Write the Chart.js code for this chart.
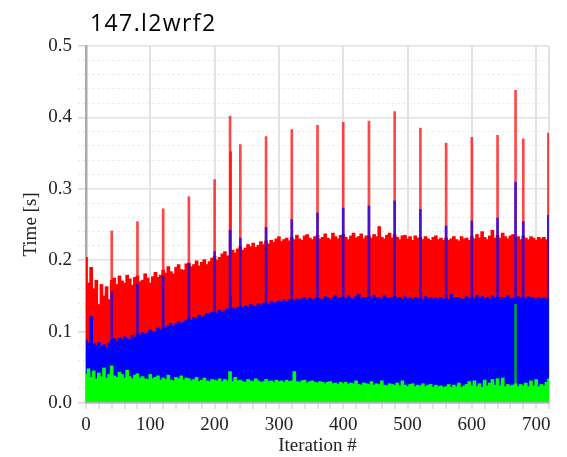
<!DOCTYPE html>
<html>
<head>
<meta charset="utf-8">
<script src="https://cdn.jsdelivr.net/npm/chart.js@4"></script>
<style>
  html, body { margin: 0; padding: 0; background: #fff; }
  #wrap { width: 567px; height: 457px; }
</style>
</head>
<body>
<div id="wrap"><canvas id="timeChart" width="567" height="457"></canvas></div>
<script>
// per-iteration timings, one sample every 4 iterations (0..720)
const sampleStep = 4;

const maxTimes = [
    0.204, 0.168, 0.190, 0.160, 0.172, 0.138, 0.166, 0.150, 0.163, 0.145,
    0.172, 0.175, 0.166, 0.178, 0.171, 0.168, 0.179, 0.174, 0.165, 0.176,
    0.178, 0.170, 0.172, 0.181, 0.175, 0.168, 0.177, 0.183, 0.176, 0.179,
    0.186, 0.182, 0.191, 0.184, 0.181, 0.190, 0.194, 0.187, 0.186, 0.195,
    0.196, 0.191, 0.194, 0.199, 0.192, 0.197, 0.201, 0.194, 0.198, 0.203,
    0.205, 0.200, 0.204, 0.209, 0.212, 0.206, 0.205, 0.214, 0.210, 0.216,
    0.219, 0.214, 0.217, 0.222, 0.219, 0.224, 0.218, 0.221, 0.226, 0.222,
    0.227, 0.223, 0.228, 0.225, 0.230, 0.233, 0.226, 0.229, 0.231, 0.227,
    0.232, 0.229, 0.235, 0.230, 0.228, 0.234, 0.236, 0.231, 0.229, 0.233,
    0.235, 0.230, 0.232, 0.237, 0.231, 0.229, 0.238, 0.233, 0.230, 0.235,
    0.236, 0.232, 0.229, 0.234, 0.238, 0.231, 0.233, 0.237, 0.230, 0.234,
    0.234, 0.231, 0.236, 0.233, 0.247, 0.232, 0.230, 0.235, 0.238, 0.231,
    0.236, 0.232, 0.229, 0.234, 0.235, 0.230, 0.233, 0.228, 0.234, 0.231,
    0.232, 0.229, 0.233, 0.230, 0.228, 0.232, 0.234, 0.229, 0.231, 0.228,
    0.231, 0.228, 0.230, 0.233, 0.229, 0.227, 0.233, 0.230, 0.231, 0.228,
    0.233, 0.230, 0.236, 0.231, 0.240, 0.232, 0.229, 0.234, 0.242, 0.231,
    0.235, 0.231, 0.238, 0.233, 0.230, 0.234, 0.236, 0.231, 0.233, 0.229,
    0.234, 0.231, 0.229, 0.233, 0.231, 0.228, 0.232, 0.230, 0.232, 0.229,
    0.230
];

const avgTimes = [
    0.088, 0.084, 0.121, 0.083, 0.080, 0.085, 0.079, 0.082, 0.078, 0.084,
    0.088, 0.090, 0.086, 0.091, 0.089, 0.093, 0.090, 0.088, 0.095, 0.092,
    0.097, 0.095, 0.099, 0.096, 0.098, 0.102, 0.100, 0.099, 0.105, 0.102,
    0.107, 0.105, 0.108, 0.111, 0.107, 0.110, 0.114, 0.111, 0.113, 0.116,
    0.118, 0.116, 0.120, 0.118, 0.123, 0.120, 0.122, 0.126, 0.124, 0.127,
    0.128, 0.126, 0.130, 0.127, 0.129, 0.132, 0.130, 0.133, 0.131, 0.134,
    0.135, 0.133, 0.136, 0.134, 0.138, 0.136, 0.135, 0.139, 0.137, 0.140,
    0.140, 0.138, 0.142, 0.140, 0.141, 0.143, 0.141, 0.144, 0.142, 0.145,
    0.145, 0.143, 0.146, 0.144, 0.146, 0.148, 0.144, 0.147, 0.145, 0.146,
    0.148, 0.146, 0.145, 0.149, 0.147, 0.145, 0.148, 0.150, 0.146, 0.147,
    0.148, 0.146, 0.150, 0.147, 0.145, 0.149, 0.152, 0.146, 0.148, 0.147,
    0.149, 0.146, 0.151, 0.147, 0.148, 0.145, 0.150, 0.147, 0.146, 0.148,
    0.149, 0.146, 0.148, 0.145, 0.149, 0.146, 0.147, 0.145, 0.148, 0.146,
    0.147, 0.145, 0.149, 0.146, 0.148, 0.145, 0.147, 0.146, 0.148, 0.145,
    0.147, 0.145, 0.152, 0.146, 0.148, 0.147, 0.145, 0.146, 0.149, 0.146,
    0.148, 0.146, 0.151, 0.147, 0.149, 0.146, 0.148, 0.145, 0.150, 0.147,
    0.149, 0.146, 0.148, 0.147, 0.150, 0.146, 0.147, 0.145, 0.149, 0.147,
    0.148, 0.146, 0.149, 0.147, 0.147, 0.145, 0.148, 0.146, 0.147, 0.146,
    0.147
];

const minTimes = [
    0.040, 0.048, 0.036, 0.045, 0.034, 0.042, 0.037, 0.049, 0.035, 0.040,
    0.052, 0.038, 0.036, 0.043, 0.040, 0.035, 0.046, 0.037, 0.034, 0.039,
    0.041, 0.035, 0.037, 0.034, 0.033, 0.040, 0.034, 0.036, 0.038, 0.032,
    0.035, 0.033, 0.039, 0.032, 0.031, 0.036, 0.034, 0.038, 0.032, 0.035,
    0.034, 0.031, 0.033, 0.036, 0.030, 0.032, 0.035, 0.031, 0.030, 0.033,
    0.032, 0.031, 0.034, 0.030, 0.033, 0.031, 0.044, 0.030, 0.036, 0.031,
    0.032, 0.030, 0.029, 0.033, 0.031, 0.030, 0.034, 0.031, 0.029, 0.030,
    0.033, 0.030, 0.031, 0.029, 0.032, 0.030, 0.031, 0.029, 0.032, 0.030,
    0.031, 0.044, 0.030, 0.029, 0.031, 0.032, 0.028, 0.030, 0.031, 0.029,
    0.028, 0.030, 0.029, 0.027, 0.029, 0.030, 0.027, 0.028, 0.026, 0.029,
    0.027, 0.029, 0.026, 0.028, 0.027, 0.031, 0.026, 0.025, 0.028, 0.027,
    0.026, 0.030, 0.025, 0.027, 0.026, 0.031, 0.025, 0.024, 0.027, 0.026,
    0.025, 0.028, 0.024, 0.031, 0.025, 0.023, 0.026, 0.027, 0.023, 0.025,
    0.024, 0.027, 0.023, 0.025, 0.026, 0.022, 0.025, 0.023, 0.024, 0.022,
    0.023, 0.026, 0.022, 0.025, 0.023, 0.028, 0.022, 0.024, 0.026, 0.030,
    0.024, 0.031, 0.023, 0.027, 0.022, 0.032, 0.024, 0.028, 0.033, 0.025,
    0.034, 0.024, 0.035, 0.023, 0.026, 0.024, 0.025, 0.027, 0.023, 0.026,
    0.024, 0.028, 0.023, 0.031, 0.024, 0.033, 0.023, 0.026, 0.024, 0.029,
    0.034
];

// isolated slow iterations
const spikeIters = [40, 80, 120, 160, 200, 224, 225, 240, 280, 320, 360, 400, 440, 480, 520, 560, 600, 640, 668, 680, 719];
const maxSpikes  = [0.241, 0.254, 0.272, 0.289, 0.313, 0.402, 0.352, 0.362, 0.373, 0.383, 0.389, 0.393, 0.395, 0.408, 0.385, 0.364, 0.372, 0.375, 0.438, 0.370, 0.378];
const avgSpikes  = [0.156, 0.167, 0.178, 0.195, 0.212, 0.242, 0.150, 0.231, 0.246, 0.257, 0.266, 0.273, 0.276, 0.283, 0.271, 0.248, 0.255, 0.259, 0.309, 0.254, 0.263];
const minSpikeIters = [668];
const minSpikes = [0.138];

const yTicks = [0.0, 0.1, 0.2, 0.3, 0.4, 0.5];

const iterations = maxTimes.map((_, i) => i * sampleStep);
const toPoints = (xs, ys) => xs.map((x, i) => ({ x: x, y: ys[i] }));

const serif = "'Liberation Serif', 'Times New Roman', serif";
const isTenth = v => Math.abs(v * 10 - Math.round(v * 10)) < 1e-6;

function barSet(data, color, thickness) {
    return {
        data: data,
        backgroundColor: color,
        borderWidth: 0,
        barThickness: thickness,
        grouped: false
    };
}

const chartTitle = {
    id: 'chartTitle',
    afterDraw(chart) {
        const ctx = chart.ctx;
        ctx.save();
        ctx.font = "23px 'Open Sans', sans-serif";
        ctx.fillStyle = '#000';
        ctx.textBaseline = 'alphabetic';
        ctx.letterSpacing = '1.4px';
        ctx.fillText('147.l2wrf2', 90, 31);
        ctx.restore();
    }
};

new Chart(document.getElementById('timeChart'), {
    type: 'bar',
    data: {
        // first dataset is drawn on top
        datasets: [
            barSet(toPoints(iterations, minTimes), '#00ff00', 3),
            barSet(toPoints(minSpikeIters, minSpikes), 'rgba(0, 210, 0, 0.75)', 2),
            barSet(toPoints(spikeIters, avgSpikes), 'rgba(0, 0, 255, 0.72)', 2),
            barSet(toPoints(iterations, avgTimes), '#0000ff', 3),
            barSet(toPoints(spikeIters, maxSpikes), 'rgba(255, 0, 0, 0.72)', 2),
            barSet(toPoints(iterations, maxTimes), '#ff0000', 3)
        ]
    },
    options: {
        responsive: false,
        animation: false,
        devicePixelRatio: 1,
        layout: { padding: { left: 16, top: 46, right: 18, bottom: 0 } },
        plugins: {
            legend: { display: false },
            tooltip: { enabled: false }
        },
        scales: {
            x: {
                type: 'linear',
                min: 0,
                max: 720,
                offset: false,
                afterFit: scale => { scale.height = 54; },
                ticks: {
                    stepSize: 20,
                    autoSkip: false,
                    maxRotation: 0,
                    padding: 5,
                    color: '#222',
                    font: { family: serif, size: 19 },
                    callback: v => (v % 100 === 0 ? String(v) : '')
                },
                grid: {
                    offset: false,
                    lineWidth: 2,
                    tickLength: 6,
                    tickWidth: 1,
                    tickColor: '#c4c4c4',
                    color: ctx => {
                        const v = ctx.tick ? ctx.tick.value : 0;
                        if (v === 0) return '#a9a9a9';
                        return (v % 100 === 0 || v === 720) ? '#e2e2e2' : 'rgba(0,0,0,0)';
                    }
                },
                border: { color: '#b4b4b4', width: 1.5, z: 1 },
                title: {
                    display: true,
                    text: 'Iteration #',
                    color: '#222',
                    font: { family: serif, size: 19 },
                    padding: { top: 0, bottom: 0 }
                }
            },
            y: {
                min: 0,
                max: 0.5,
                afterFit: scale => { scale.width = 70; },
                afterBuildTicks: scale => {
                    // major labels at 0.1, dotted minor lines every 0.02
                    const ticks = [];
                    for (let i = 0; i <= 25; i++) ticks.push({ value: i / 50 });
                    scale.ticks = ticks;
                },
                ticks: {
                    autoSkip: false,
                    padding: 6,
                    color: '#222',
                    font: { family: serif, size: 19 },
                    callback: v => (isTenth(v) ? yTicks[Math.round(v * 10)].toFixed(1) : '')
                },
                grid: {
                    tickLength: 8,
                    lineWidth: ctx => (ctx.tick && isTenth(ctx.tick.value) ? 1.5 : 1),
                    color: ctx => {
                        if (!ctx.tick) return '#e2e2e2';
                        if (ctx.tick.value === 0) return '#b4b4b4';
                        return isTenth(ctx.tick.value) ? '#e2e2e2' : '#e6e6e6';
                    },
                    tickColor: ctx => (ctx.tick && isTenth(ctx.tick.value) ? '#d6d6d6' : '#e6e6e6'),
                    tickBorderDash: ctx => (ctx.tick && isTenth(ctx.tick.value) ? [] : [2, 3])
                },
                border: {
                    color: '#a9a9a9',
                    width: 2.5,
                    dash: ctx => (ctx.tick && !isTenth(ctx.tick.value) ? [2, 3] : [])
                },
                title: {
                    display: true,
                    text: 'Time [s]',
                    color: '#222',
                    font: { family: serif, size: 19 },
                    padding: { top: 4, bottom: 4 }
                }
            }
        }
    },
    plugins: [chartTitle]
});
</script>
</body>
</html>
